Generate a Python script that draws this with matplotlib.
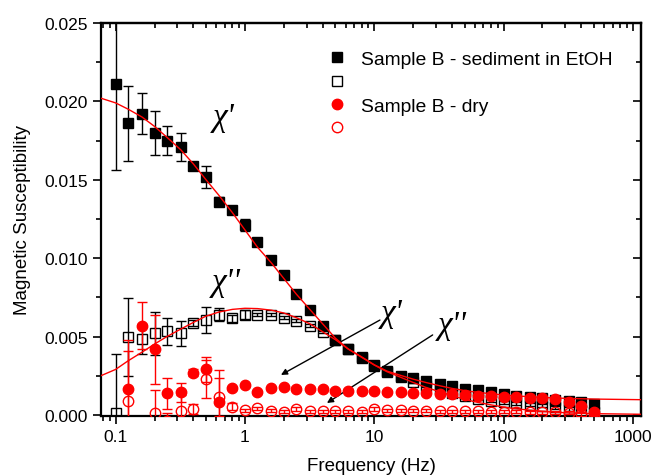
import numpy as np
import matplotlib
matplotlib.use("Agg")
import matplotlib.pyplot as plt
from matplotlib.lines import Line2D
from matplotlib.ticker import FixedLocator, FuncFormatter, MultipleLocator, LogLocator, NullFormatter

plt.rcParams['font.family'] = ['Liberation Sans', 'DejaVu Sans']

# ---------------- data ----------------
freq = [0.1, 0.125, 0.16, 0.2, 0.25, 0.32, 0.4, 0.5, 0.63, 0.8,
        1, 1.25, 1.6, 2, 2.5, 3.2, 4, 5, 6.3, 8,
        10, 12.5, 16, 20, 25, 32, 40, 50, 63, 80,
        100, 125, 160, 200, 250, 320, 400, 500]

# Sample B - sediment in EtOH, chi'
sed_chi1 = [0.0211, 0.0186, 0.0192, 0.0180, 0.0175, 0.0171, 0.0159, 0.0152, 0.0136, 0.0131,
            0.0121, 0.0110, 0.0099, 0.0089, 0.0077, 0.0067, 0.0057, 0.0048, 0.0042, 0.0037,
            0.0032, 0.0028, 0.0025, 0.00234, 0.00217, 0.00199, 0.00183, 0.00166, 0.00157, 0.00145,
            0.00132, 0.00123, 0.00115, 0.00106, 0.00097, 0.00089, 0.00081, 0.00072]
sed_chi1_err = [0.0055, 0.0024, 0.0013, 0.0014, 0.0009, 0.0009, 0.00025, 0.0007, 0.0003, 0.0002,
                0.0004, 0.0002, 0.0001, 0.0001, 0.0001, 0.0001, 0.0001, 0.0001, 0.0001, 0.0001,
                0.0001, 0.0001, 0.0001, 0.0001, 0.0001, 0.0001, 0.0001, 0.0001, 0.0001, 0.0001,
                0.0001, 0.0001, 0.0001, 0.0001, 0.0001, 0.0001, 0.0001, 0.0001]

# Sample B - sediment in EtOH, chi''
sed_chi2 = [0.0001, 0.00495, 0.00484, 0.0052, 0.00533, 0.00522, 0.00584, 0.00607, 0.00639, 0.00615,
            0.0064, 0.0064, 0.0064, 0.0062, 0.0060, 0.0057, 0.0053, 0.0048, 0.0042, 0.0036,
            0.0031, 0.00276, 0.0024, 0.00212, 0.00187, 0.00166, 0.0014, 0.00119, 0.00102, 0.00091,
            0.00081, 0.00075, 0.00066, 0.00059, 0.00049, 0.00038, 0.00027, 0.00017]
sed_chi2_err = [0.0038, 0.0025, 0.00095, 0.00137, 0.00085, 0.0008, 0.0002, 0.00083, 0.0004, 0.0002,
                0.0003, 0.0001, 0.0001, 0.0001, 0.0001, 0.0001, 0.0001, 0.0001, 0.0001, 0.0001,
                0.0001, 0.0001, 0.0001, 0.0001, 0.0001, 0.0001, 0.0001, 0.0001, 0.0001, 0.0001,
                0.0001, 0.0001, 0.0001, 0.0001, 0.0001, 0.0001, 0.0001, 0.0001]

# Sample B - dry, chi'
dry_chi1 = [np.nan, 0.00166, 0.0057, 0.0042, 0.00138, 0.00144, 0.0027, 0.0029, 0.00085, 0.0017,
            0.0019, 0.00145, 0.0017, 0.00176, 0.00166, 0.00166, 0.00166, 0.00155, 0.00155, 0.0015,
            0.0015, 0.00145, 0.00145, 0.00142, 0.0014, 0.00134, 0.00134, 0.0013, 0.00123, 0.00123,
            0.00117, 0.00113, 0.00108, 0.00106, 0.0010, 0.00081, 0.00059, 0.00021]
dry_chi1_err = [np.nan, 0.0024, 0.0015, 0.0022, 0.0010, 0.0006, 0.00025, 0.0008, 0.0020, 0.0001,
                0.0001, 0.0001, 0.0001, 0.0001, 0.0001, 0.0001, 0.0001, 0.0001, 0.0001, 0.0001,
                0.0001, 0.0001, 0.0001, 0.0001, 0.0001, 0.0001, 0.0001, 0.0001, 0.0001, 0.0001,
                0.0001, 0.0001, 0.0001, 0.0001, 0.0001, 0.0001, 0.0001, 0.0001]

# Sample B - dry, chi''
dry_chi2 = [np.nan, 0.0009, np.nan, 0.0001, -0.0004, 0.00024, 0.00038, 0.0023, 0.00113, 0.00053,
            0.0003, 0.00043, 0.00027, 0.00021, 0.00038, 0.00024, 0.00024, 0.00024, 0.00024, 0.00021,
            0.00038, 0.0003, 0.0003, 0.00027, 0.00027, 0.00024, 0.00024, 0.00022, 0.00022, 0.0002,
            0.0002, 0.0002, 0.00018, 0.00018, 0.00017, 0.00015, 0.00006, -0.0001]
dry_chi2_err = [np.nan, 0.0039, np.nan, 0.0015, 0.0005, 0.0010, 0.0003, 0.0012, 0.0012, 0.0002,
                0.0001, 0.0001, 0.0001, 0.0001, 0.0001, 0.0001, 0.0001, 0.0001, 0.0001, 0.0001,
                0.0001, 0.0001, 0.0001, 0.0001, 0.0001, 0.0001, 0.0001, 0.0001, 0.0001, 0.0001,
                0.0001, 0.0001, 0.0001, 0.0001, 0.0001, 0.0001, 0.0001, 0.0001]

# fitted curves (red lines)
fit_freq = [0.077, 0.1, 0.125, 0.16, 0.2, 0.25, 0.32, 0.4, 0.5, 0.63, 0.8,
            1, 1.25, 1.6, 2, 2.5, 3.2, 4, 5, 6.3, 8,
            10, 12.5, 16, 20, 25, 32, 40, 50, 63, 80,
            100, 125, 160, 200, 250, 320, 400, 500, 1150]
fit_chi1 = [0.0202, 0.0199, 0.0195, 0.0190, 0.0184, 0.0177, 0.0169, 0.0160, 0.0150, 0.0140, 0.0129,
            0.0118, 0.0107, 0.0097, 0.0087, 0.0077, 0.0067, 0.0058, 0.0049, 0.0042, 0.0037,
            0.0032, 0.0028, 0.00252, 0.00228, 0.00207, 0.00186, 0.00169, 0.00155, 0.00144, 0.00135,
            0.00127, 0.00121, 0.00116, 0.00112, 0.00108, 0.00105, 0.00103, 0.00101, 0.00097]
fit_chi2 = [0.0025, 0.0029, 0.00345, 0.0040, 0.00452, 0.0050, 0.00548, 0.0059, 0.0063, 0.00656, 0.00673,
            0.0068, 0.00678, 0.00668, 0.0065, 0.0062, 0.0058, 0.0053, 0.0048, 0.0042, 0.00367,
            0.00318, 0.00276, 0.0024, 0.00207, 0.00176, 0.00148, 0.00123, 0.00099, 0.0008, 0.00064,
            0.0005, 0.00039, 0.0003, 0.00023, 0.00017, 0.00013, 0.0001, 0.00008, 0.00004]

x_ticks = [0.1, 1, 10, 100, 1000]
y_ticks = [0.000, 0.005, 0.010, 0.015, 0.020, 0.025]
legend_labels = ["Sample B - sediment in EtOH", "", "Sample B - dry", ""]

# ---------------- figure ----------------
fig = plt.figure(figsize=(6.54, 4.77), dpi=100)
ax = fig.add_axes([0.155, 0.1258, 0.825, 0.824])
ax.set_xscale('log')

ms = 6.5
cs = 3.5
ax.errorbar(freq, sed_chi1, yerr=sed_chi1_err, fmt='s', ms=ms, color='black',
            ecolor='black', elinewidth=1, capsize=cs, capthick=1, zorder=2)
ax.errorbar(freq, sed_chi2, yerr=sed_chi2_err, fmt='s', ms=ms, mfc='none', mec='black', mew=1,
            ecolor='black', elinewidth=1, capsize=cs, capthick=1, zorder=2)
ax.errorbar(freq, dry_chi1, yerr=dry_chi1_err, fmt='o', ms=ms + 1, color='red',
            ecolor='red', elinewidth=1, capsize=cs, capthick=1, zorder=3)
ax.errorbar(freq, dry_chi2, yerr=dry_chi2_err, fmt='o', ms=ms + 1, mfc='none', mec='red', mew=1,
            ecolor='red', elinewidth=1, capsize=cs, capthick=1, zorder=3)

ax.plot(fit_freq, fit_chi1, color='red', lw=1, zorder=4)
ax.plot(fit_freq, fit_chi2, color='red', lw=1, zorder=4)

ax.set_xlim(0.0776, 1155)
ax.set_ylim(-0.00007, 0.025)

# ticks
ax.xaxis.set_major_locator(FixedLocator(x_ticks))
ax.xaxis.set_major_formatter(FuncFormatter(lambda v, p: '%g' % v))
ax.xaxis.set_minor_locator(LogLocator(base=10, subs=np.arange(2, 10), numticks=20))
ax.xaxis.set_minor_formatter(NullFormatter())
ax.yaxis.set_major_locator(FixedLocator(y_ticks))
ax.yaxis.set_major_formatter(FuncFormatter(lambda v, p: '%.3f' % v))
ax.yaxis.set_minor_locator(MultipleLocator(0.0025))
ax.tick_params(which='major', direction='out', length=6, width=1.2, labelsize=12.5, colors='black')
ax.tick_params(which='minor', direction='out', length=3.5, width=1.2)
for s in ax.spines.values():
    s.set_linewidth(1.6)

top = ax.secondary_xaxis('top')
top.xaxis.set_major_locator(FixedLocator(x_ticks))
top.xaxis.set_minor_locator(LogLocator(base=10, subs=np.arange(2, 10), numticks=20))
top.tick_params(which='major', direction='in', length=6, width=1.2, labeltop=False)
top.tick_params(which='minor', direction='in', length=3.5, width=1.2)
top.xaxis.set_major_formatter(NullFormatter())
top.xaxis.set_minor_formatter(NullFormatter())
top.spines['top'].set_linewidth(1.6)

right = ax.secondary_yaxis('right')
right.yaxis.set_major_locator(FixedLocator(y_ticks))
right.yaxis.set_minor_locator(MultipleLocator(0.0025))
right.tick_params(which='major', direction='in', length=6, width=1.2, labelright=False)
right.tick_params(which='minor', direction='in', length=3.5, width=1.2)
right.yaxis.set_major_formatter(NullFormatter())
right.spines['right'].set_linewidth(1.6)

ax.set_xlabel('Frequency (Hz)', fontsize=13.5, labelpad=9.5)
ax.set_ylabel('Magnetic Susceptibility', fontsize=13.5, labelpad=10)

# chi labels and arrows
chi_kw = dict(fontsize=24, family=['Liberation Serif', 'DejaVu Serif'], style='italic',
              ha='center', va='center')
ax.text(0.68, 0.0190, "χ'", **chi_kw)
ax.text(0.72, 0.00850, "χ''", **chi_kw)
ax.text(13.7, 0.00650, "χ'", **chi_kw)
ax.text(39.9, 0.00572, "χ''", **chi_kw)
arrow_kw = dict(arrowstyle='-|>', color='black', lw=1, mutation_scale=9, shrinkA=0, shrinkB=0)
ax.annotate('', xy=(1.90, 0.00255), xytext=(11.07, 0.00605), arrowprops=arrow_kw)
ax.annotate('', xy=(4.31, 0.00076), xytext=(28.3, 0.0051), arrowprops=arrow_kw)

# legend
handles = [Line2D([], [], ls='none', marker='s', ms=ms, color='black'),
           Line2D([], [], ls='none', marker='s', ms=ms, mfc='none', mec='black', mew=1),
           Line2D([], [], ls='none', marker='o', ms=ms + 1, color='red'),
           Line2D([], [], ls='none', marker='o', ms=ms + 1, mfc='none', mec='red', mew=1)]
ax.legend(handles, legend_labels, loc='upper left', bbox_to_anchor=(0.418, 0.93),
          frameon=False, fontsize=13.9, handlelength=1.0, handletextpad=0.75,
          labelspacing=0.3, borderaxespad=0, borderpad=0)

fig.savefig('out.png', dpi=100)
